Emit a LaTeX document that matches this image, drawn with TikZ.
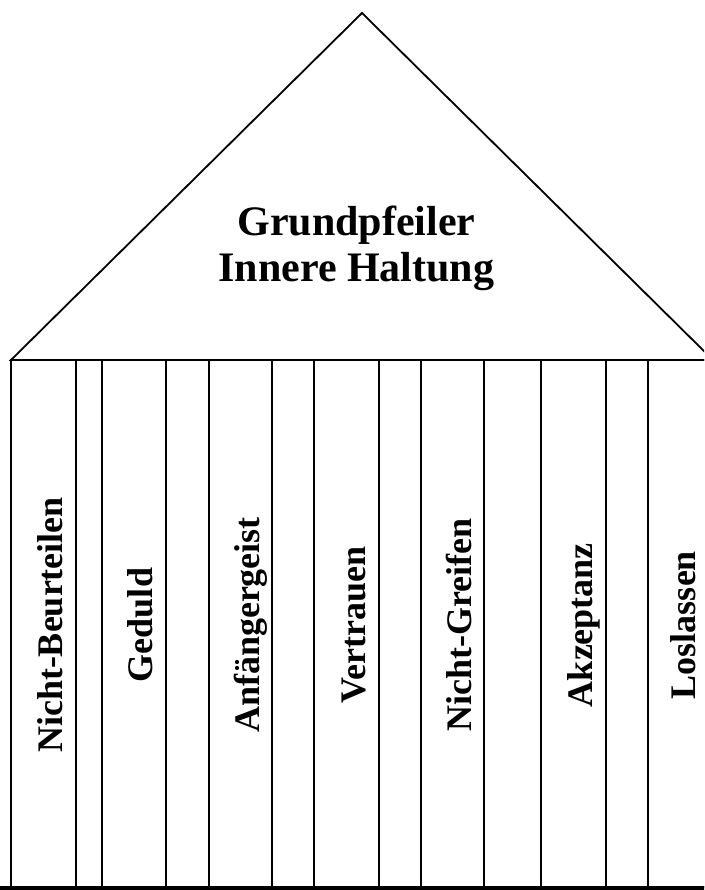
\documentclass[tikz,border=0pt]{standalone}
\usepackage{fontspec}
\setmainfont{Liberation Serif}
\begin{document}
\begin{tikzpicture}[x=1pt,y=-1pt,
  edge/.style={line width=1.8pt,black},
  title/.style={font=\fontsize{42}{45}\selectfont\bfseries,inner sep=0pt,anchor=base},
  pillartext/.style={font=\fontsize{36}{40}\selectfont\bfseries,inner sep=0pt,rotate=90,anchor=base}]
\useasboundingbox (0,0) rectangle (704,890);
\clip (0,0) rectangle (704,890);
\fill[white] (0,0) rectangle (704,890);
% roof
\coordinate (apex) at (362,13);
\coordinate (roofL) at (11,360);
\coordinate (roofR) at (713,360);
\draw[edge,line join=miter] (roofL) -- (apex) -- (roofR) -- cycle;
% pillars (wide and narrow)
\foreach \a/\b in {11/76,76/102,102/166,166/209,209/272,272/314,314/379,379/421,421/484,484/541,541/606,606/648,648/713}
  \draw[edge] (\a,360) rectangle (\b,887);
\draw[line width=4pt] (0,888) -- (713,888);
% title
\node[title] (t1) at (356.5,236) {Grundpfeiler};
\node[title] (t2) at (356.5,281.5) {Innere Haltung};
% pillar labels
\node[pillartext] (p1) at (62,625) {Nicht-Beurteilen};
\node[pillartext] (p2) at (152.5,625) {Geduld};
\node[pillartext] (p3) at (259,625) {Anfängergeist};
\node[pillartext] (p4) at (365,625) {Vertrauen};
\node[pillartext] (p5) at (471,625) {Nicht-Greifen};
\node[pillartext] (p6) at (592,625) {Akzeptanz};
\node[pillartext] (p7) at (695,625) {Loslassen};
\end{tikzpicture}
\end{document}
